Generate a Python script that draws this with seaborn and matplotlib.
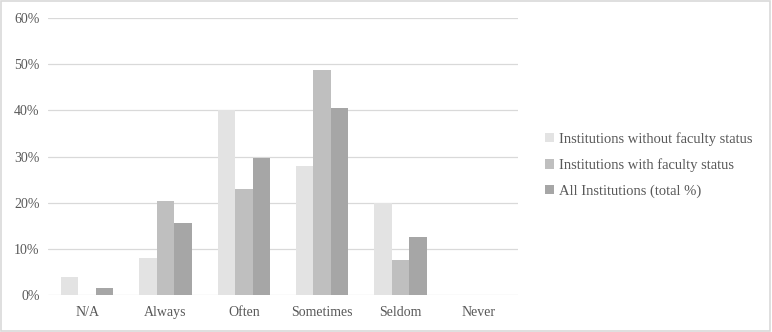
import matplotlib
matplotlib.use("Agg")
import matplotlib.pyplot as plt
import seaborn as sns
import pandas as pd
from matplotlib.ticker import FuncFormatter

categories = ["N/A", "Always", "Often", "Sometimes", "Seldom", "Never"]
series_names = ["Institutions without faculty status",
                "Institutions with faculty status",
                "All Institutions (total %)"]
without_faculty = [4.0, 8.0, 40.0, 28.0, 20.0, 0.0]
with_faculty = [0.0, 20.4, 23.0, 48.8, 7.6, 0.0]
all_institutions = [1.5, 15.7, 29.7, 40.5, 12.5, 0.0]
yticks = [0, 10, 20, 30, 40, 50, 60]

rows = []
for name, vals in zip(series_names, [without_faculty, with_faculty, all_institutions]):
    for c, v in zip(categories, vals):
        rows.append({"cat": c, "series": name, "val": v})
df = pd.DataFrame(rows)

sns.set_theme(style="white")
plt.rcParams["font.family"] = ["Liberation Serif", "DejaVu Serif"]

fig = plt.figure(figsize=(7.72, 3.32), dpi=100)
ax = fig.add_axes([0.062, 0.111, 0.609, 0.835])
palette = ["#E3E3E3", "#BFBFBF", "#A6A6A6"]
sns.barplot(data=df, x="cat", y="val", hue="series", order=categories,
            hue_order=series_names, palette=palette, width=0.67,
            saturation=1, ax=ax, zorder=3, linewidth=0)

ax.set_ylim(0, 60)
ax.set_yticks(yticks)
ax.yaxis.set_major_formatter(FuncFormatter(lambda v, p: f"{int(v)}%"))
ax.grid(axis="y", color="#D9D9D9", linewidth=0.9, zorder=0)
for s in ax.spines.values():
    s.set_visible(False)
ax.set_xlabel("")
ax.set_ylabel("")
ax.tick_params(axis="both", length=0, labelsize=10, colors="#595959", pad=6)
ax.tick_params(axis="x", pad=8)
ax.set_xlim(-0.5, 5.5)

h, l = ax.get_legend_handles_labels()
ax.legend(h, l, loc="center left", bbox_to_anchor=(0.693, 0.503),
          bbox_transform=fig.transFigure, frameon=False, fontsize=10.5,
          labelcolor="#595959", handlelength=0.6, handleheight=0.6,
          handletextpad=0.35, labelspacing=0.85, borderpad=0.2)

fig.patches.append(plt.Rectangle((0.001, 0.002), 0.997, 0.995, transform=fig.transFigure,
                                 fill=False, edgecolor="#D9D9D9", linewidth=1.2))
fig.savefig("out.png", dpi=100)
